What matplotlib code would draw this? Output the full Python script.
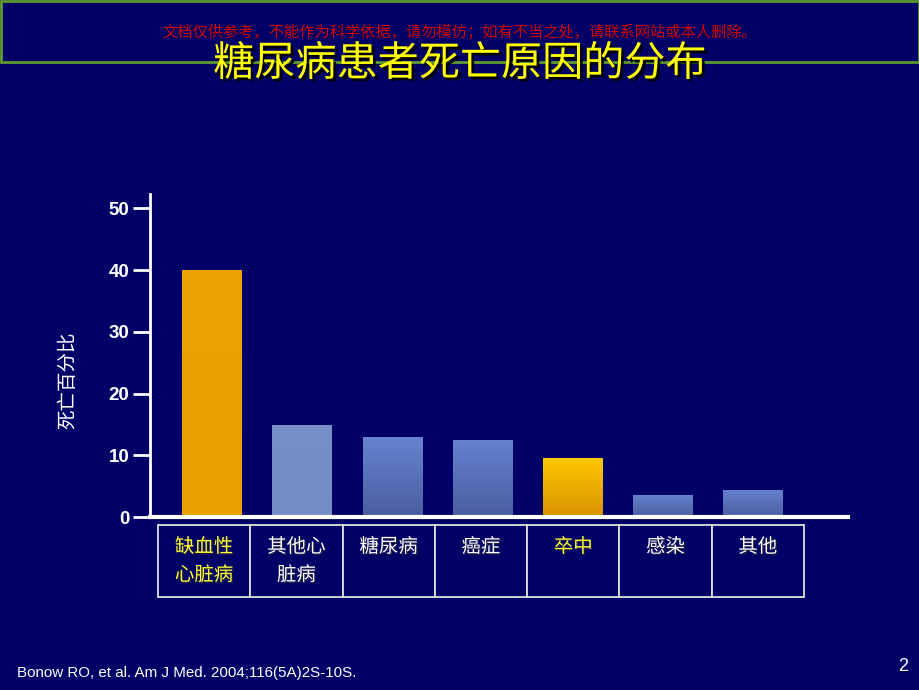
import matplotlib.pyplot as plt
import matplotlib.patheffects as pe
from matplotlib.colors import LinearSegmentedColormap
import numpy as np

plt.rcParams['font.family'] = ['Noto Sans CJK SC', 'DejaVu Sans']

# Data
causes = ['缺血性\n心脏病', '其他心\n脏病', '糖尿病', '癌症', '卒中', '感染', '其他']
percent = [40, 14.9, 12.9, 12.5, 9.5, 3.6, 4.4]
top_colors = ['#EBA300', '#7890CA', '#6682D0', '#6682D0', '#FFC800', '#6682D0', '#6682D0']
bottom_colors = ['#E9A000', '#748CC6', '#4A5E9E', '#4A5E9E', '#D89200', '#4A5E9E', '#4A5E9E']
label_colors = ['#FFFF33', 'white', 'white', 'white', '#FFFF33', 'white', 'white']
yticks = [0, 10, 20, 30, 40, 50]

title = '糖尿病患者死亡原因的分布'
notice = '文档仅供参考，不能作为科学依据，请勿模仿；如有不当之处，请联系网站或本人删除。'
source = 'Bonow RO, et al. Am J Med. 2004;116(5A)2S-10S.'

bg = '#000066'
fig = plt.figure(figsize=(9.2, 6.9), dpi=100, facecolor=bg)
ax = fig.add_axes([0.163, 0.2507, 0.7587, 0.468])
ax.set_facecolor(bg)

x = np.arange(len(percent))
bars = ax.bar(x, percent, width=0.665, color=bottom_colors, zorder=2,
              edgecolor='none')

# vertical gradient inside each bar
for bar, ct, cb in zip(bars, top_colors, bottom_colors):
    cmap = LinearSegmentedColormap.from_list('g', [cb, ct])
    x0, w, h = bar.get_x(), bar.get_width(), bar.get_height()
    grad = np.linspace(0, 1, 256).reshape(-1, 1)
    im = ax.imshow(grad, extent=(x0, x0 + w, 0, h), origin='lower',
                   cmap=cmap, aspect='auto', zorder=3)
    im.set_clip_path(bar)

ax.set_xlim(-0.69, 7.05)
ax.set_ylim(0, 52.3)
ax.set_xticks([])
ax.set_yticks(yticks)
ax.tick_params(axis='y', colors='white', length=12, width=2, pad=3,
               labelsize=13.5)
for t in ax.get_yticklabels():
    t.set_fontfamily('Liberation Sans')
    t.set_fontweight('bold')
    t.set_color('white')
for s in ['top', 'right']:
    ax.spines[s].set_visible(False)
ax.spines['left'].set_color('white')
ax.spines['left'].set_linewidth(2)
ax.spines['bottom'].set_color('white')
ax.spines['bottom'].set_linewidth(3)
ax.spines['bottom'].set_zorder(5)

ax.set_ylabel('死亡百分比', color='white', fontsize=14, va='center')
ax.yaxis.set_label_coords(-0.1175, 0.424)

# category table under the axis
cells = [c if '\n' in c else c + '\n ' for c in causes]
tbl = ax.table(cellText=[cells], cellLoc='center',
               bbox=[0.0115, -0.2477, 0.9255, 0.2229])
tbl.auto_set_font_size(False)
for (r, c), cell in tbl.get_celld().items():
    cell.set_facecolor(bg)
    cell.set_edgecolor('#E0E0E0')
    cell.set_linewidth(1.3)
    txt = cell.get_text()
    txt.set_fontsize(14)
    txt.set_color(label_colors[c])
    txt.set_linespacing(1.45)
    txt.set_va('center')
    txt.set_path_effects([pe.withSimplePatchShadow(offset=(1, -1),
                          shadow_rgbFace='#202040', alpha=0.9)])

# header frame and texts
fig.add_artist(plt.Rectangle((0.0015, 0.9095), 0.997, 0.089,
                             transform=fig.transFigure, fill=False,
                             edgecolor='#5E9A30', linewidth=2))
fig.text(0.5, 0.954, notice, color='#D00000', fontsize=11.0,
         ha='center', va='center')
fig.text(0.5, 0.907, title, color='#FFFF00', fontsize=29.6,
         ha='center', va='center',
         path_effects=[pe.withSimplePatchShadow(offset=(2, -2),
                       shadow_rgbFace='black', alpha=0.9)])

fig.text(0.0185, 0.025, source, color='white', fontsize=10.9,
         family='Liberation Sans', ha='left', va='center')
fig.text(0.987, 0.034, '2', color='white', fontsize=13,
         family='Liberation Sans', ha='right', va='center')

fig.savefig('out.png', dpi=100, facecolor=bg)
